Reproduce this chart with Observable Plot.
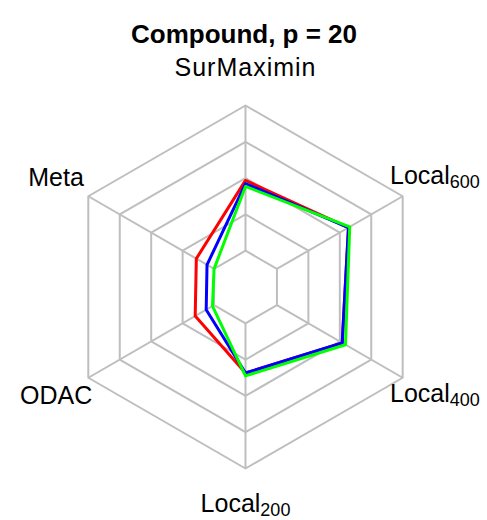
<!DOCTYPE html>
<html>
<head>
<meta charset="utf-8">
<script src="https://cdn.jsdelivr.net/npm/d3@7"></script>
<script src="https://cdn.jsdelivr.net/npm/@observablehq/plot@0.6"></script>
<style>
  html, body { margin: 0; padding: 0; background: #fff; }
  #chart svg { display: block; }
</style>
</head>
<body>
<div id="chart"></div>
<script>
// ---- data ----
const title = "Compound, p = 20";
const categories = ["SurMaximin", "Local600", "Local400", "Local200", "ODAC", "Meta"];
const redValues   = [0.484, 0.569, 0.519, 0.3425, 0.150, 0.141];
const blueValues  = [0.4625, 0.569, 0.519, 0.3425, 0.0625, 0.056];
const greenValues = [0.4425, 0.579, 0.545, 0.3625, 0.0125, 0.000];
const seriesNames  = ["Series 1", "Series 2", "Series 3"];
const seriesColors = ["#ff0000", "#0000ff", "#00ff00"];
const ringLevels = [0, 0.25, 0.5, 0.75, 1];

// ---- layout ----
const W = 487, H = 520;
const cx = 245, cy = 286.5, R = 181.5;
const n = categories.length;
const angleOf = i => Math.PI / 2 - i * 2 * Math.PI / n;
const radiusOf = v => (1 + 4 * v) / 5; // fmsb-style: min value at inner ring
const polar = (i, r) => ({x: r * Math.cos(angleOf(i)), y: r * Math.sin(angleOf(i))});

const rings = ringLevels.flatMap(v => categories.map((c, i) => ({ring: v, ...polar(i, radiusOf(v))})));
const spokes = categories.map((c, i) => {
  const a = polar(i, radiusOf(0)), b = polar(i, radiusOf(1));
  return {x1: a.x, y1: a.y, x2: b.x, y2: b.y};
});
const allSeries = [redValues, blueValues, greenValues];
const points = allSeries.flatMap((vals, s) =>
  vals.map((v, i) => ({series: seriesNames[s], category: categories[i], ...polar(i, radiusOf(v))})));
const labels = categories.map((c, i) => ({label: c, ...polar(i, 1.205)}));

const chart = Plot.plot({
  width: W,
  height: H,
  margin: 0,
  style: {fontFamily: "'Liberation Sans', Arial, Helvetica, sans-serif", background: "#fff", color: "#000"},
  x: {domain: [-cx / R, (W - cx) / R], range: [0, W], axis: null},
  y: {domain: [(cy - H) / R, cy / R], range: [H, 0], axis: null},
  color: {type: "ordinal", domain: seriesNames, range: seriesColors},
  marks: [
    Plot.line(rings, {x: "x", y: "y", z: "ring", curve: "linear-closed", stroke: "#bebebe", strokeWidth: 2}),
    Plot.link(spokes, {x1: "x1", y1: "y1", x2: "x2", y2: "y2", stroke: "#bebebe", strokeWidth: 2}),
    Plot.line(points, {x: "x", y: "y", z: "series", stroke: "series", curve: "linear-closed", strokeWidth: 3, strokeLinejoin: "round"}),
    Plot.text(labels, {x: "x", y: "y", text: "label", fontSize: 25, fill: "#000"}),
    Plot.text([title], {frameAnchor: "top", dy: 24, text: d => d, fontSize: 26, fontWeight: "bold", fill: "#000"})
  ]
});

// subscripts for Local labels, small text tweaks
chart.querySelectorAll("text").forEach(t => {
  if (t.textContent === "SurMaximin") t.setAttribute("letter-spacing", "1");
  const m = t.textContent.match(/^(Local)(\d+)$/);
  if (!m) return;
  while (t.firstChild) t.removeChild(t.firstChild);
  const ns = "http://www.w3.org/2000/svg";
  const a = document.createElementNS(ns, "tspan");
  a.textContent = m[1];
  a.setAttribute("dy", "-2");
  const b = document.createElementNS(ns, "tspan");
  b.textContent = m[2];
  b.setAttribute("font-size", "18");
  b.setAttribute("dy", "4");
  t.appendChild(a);
  t.appendChild(b);
});

document.getElementById("chart").appendChild(chart);
</script>
</body>
</html>
